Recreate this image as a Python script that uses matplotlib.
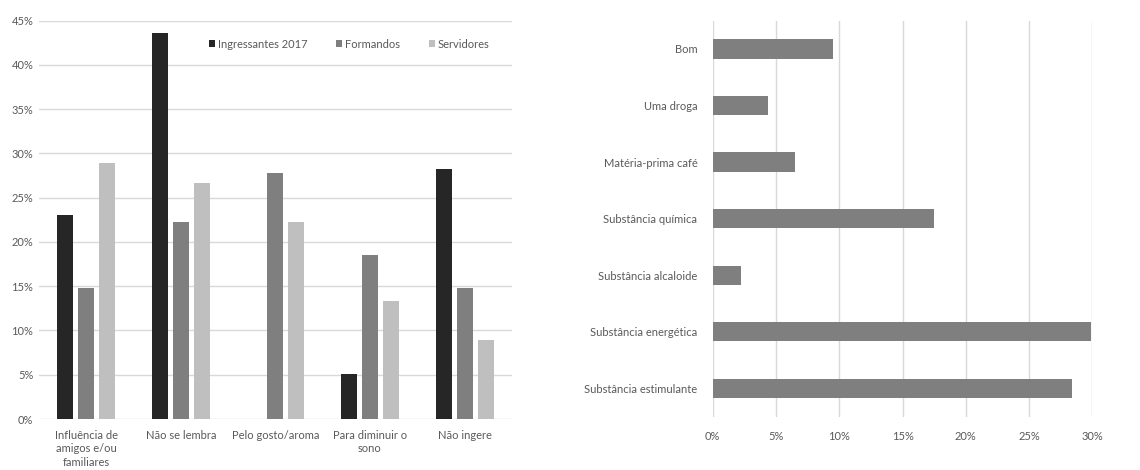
import matplotlib
matplotlib.use("Agg")
import matplotlib.pyplot as plt
import numpy as np
from matplotlib.ticker import FuncFormatter

plt.rcParams['font.family'] = ['Lato', 'DejaVu Sans']

# Motivos para o consumo de café
motivos = ["Influência de\namigos e/ou\nfamiliares", "Não se lembra", "Pelo gosto/aroma",
           "Para diminuir o\nsono", "Não ingere"]
grupos = ["Ingressantes 2017", "Formandos", "Servidores"]
ingressantes = [23.1, 43.6, 0.0, 5.1, 28.2]
formandos = [14.8, 22.2, 27.8, 18.5, 14.8]
servidores = [28.9, 26.7, 22.2, 13.3, 8.9]

# Concepção sobre a cafeína
conceitos = ["Bom", "Uma droga", "Matéria-prima café", "Substância química",
             "Substância alcaloide", "Substância energética", "Substância estimulante"]
percentuais = [9.5, 4.4, 6.5, 17.5, 2.2, 29.9, 28.4]

cores = ["#262626", "#7f7f7f", "#bfbfbf"]
texto = "#595959"
grade = "#d9d9d9"
fs = 8
pct = FuncFormatter(lambda v, _: f"{v:.0f}%")

fig = plt.figure(figsize=(11.4, 4.7), dpi=100)

# Gráfico de colunas agrupadas
ax1 = fig.add_axes([0.0342, 0.1085, 0.4148, 0.8475])
x = np.arange(len(motivos))
largura = 0.17
passo = 0.222
for i, (serie, cor) in enumerate(zip([ingressantes, formandos, servidores], cores)):
    ax1.bar(x + (i - 1) * passo, serie, width=largura, color=cor, label=grupos[i], zorder=3)
ax1.set_xlim(-0.5, len(motivos) - 0.5)
ax1.set_ylim(0, 45)
ax1.set_yticks(np.arange(0, 46, 5))
ax1.yaxis.set_major_formatter(pct)
ax1.set_xticks(x)
ax1.set_xticklabels(motivos, linespacing=1.25, va="top")
ax1.grid(axis="y", color=grade, linewidth=1, zorder=0)
for s in ax1.spines.values():
    s.set_visible(False)
ax1.tick_params(axis="both", length=0, colors=texto, labelsize=fs)
ax1.tick_params(axis="x", pad=8)
ax1.tick_params(axis="y", pad=4)
ax1.legend(ncol=3, loc="center right", bbox_to_anchor=(0.953, 0.941), frameon=False,
           fontsize=fs, labelcolor=texto, handlelength=0.55, handleheight=0.55,
           handletextpad=0.25, columnspacing=2.6, borderpad=0, borderaxespad=0)

# Gráfico de barras horizontais
ax2 = fig.add_axes([0.6252, 0.1134, 0.3330, 0.8426])
y = np.arange(len(conceitos))
ax2.barh(y, percentuais, height=0.34, color="#7f7f7f", zorder=3)
ax2.set_ylim(len(conceitos) - 0.5, -0.5)
ax2.set_xlim(0, 30)
ax2.set_xticks(np.arange(0, 31, 5))
ax2.xaxis.set_major_formatter(pct)
ax2.set_yticks(y)
ax2.set_yticklabels(conceitos)
ax2.grid(axis="x", color=grade, linewidth=1, zorder=0)
for s in ax2.spines.values():
    s.set_visible(False)
ax2.tick_params(axis="both", length=0, colors=texto, labelsize=fs)
ax2.tick_params(axis="x", pad=10)
ax2.tick_params(axis="y", pad=11)

fig.savefig("out.png", dpi=100, facecolor="white")
